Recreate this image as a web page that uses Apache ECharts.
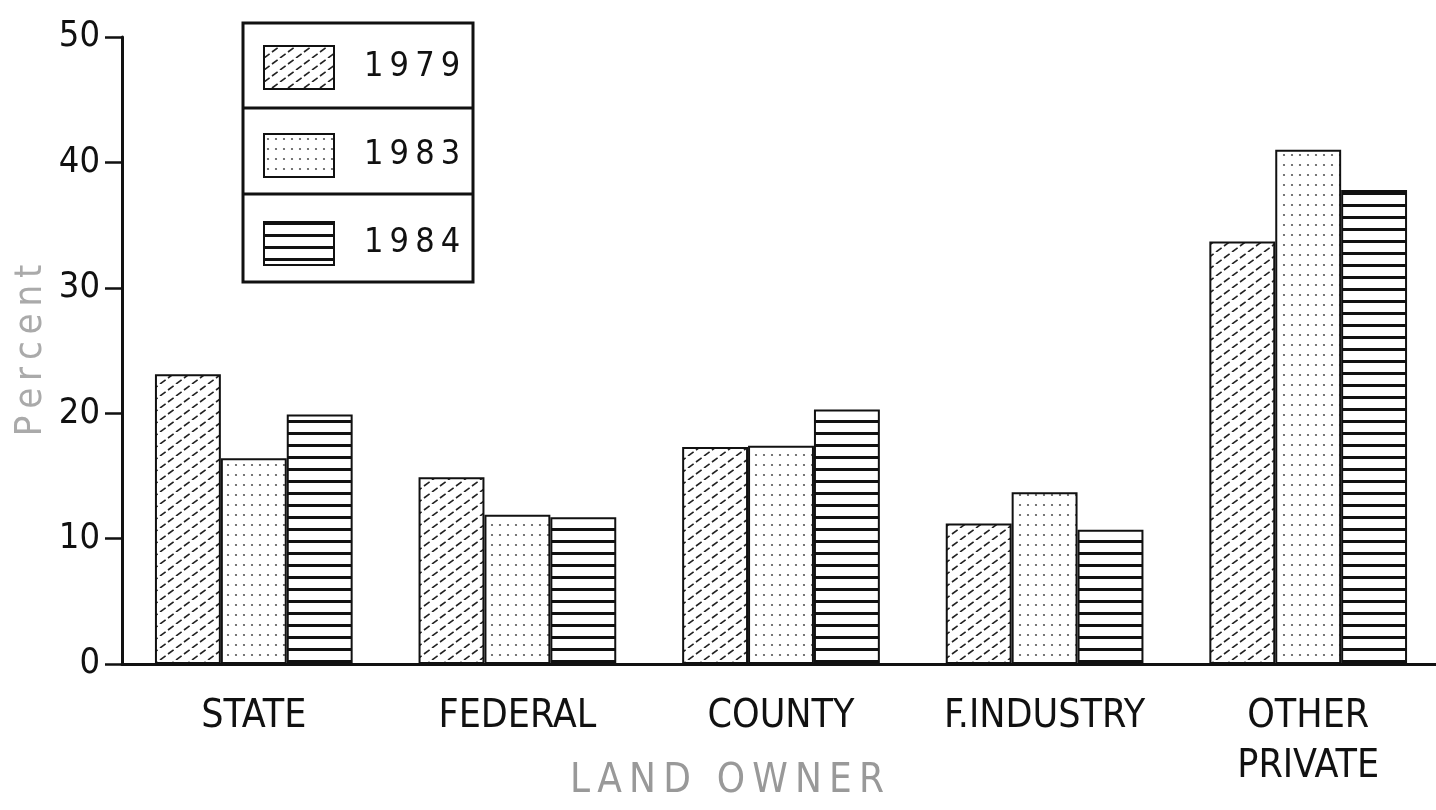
<!DOCTYPE html>
<html>
<head>
<meta charset="utf-8">
<script src="https://cdn.jsdelivr.net/npm/echarts@6/dist/echarts.min.js"></script>
<style>
  html, body { margin: 0; padding: 0; background: #fff; }
  #chart { width: 1436px; height: 810px; }
</style>
</head>
<body>
<div id="chart"></div>
<script>
const categories = ['STATE', 'FEDERAL', 'COUNTY', 'F.INDUSTRY', 'OTHER\nPRIVATE'];
const years = ['1979', '1983', '1984'];
const values1979 = [23.1, 14.9, 17.3, 11.2, 33.7];
const values1983 = [16.4, 11.9, 17.4, 13.7, 41.0];
const values1984 = [19.9, 11.7, 20.3, 10.7, 37.8];
const yTicks = [0, 10, 20, 30, 40, 50];

const narrow = '"Liberation Sans Narrow", "DejaVu Sans Condensed", sans-serif';
// letter spaced titles, the way the plotter drew them
const spaced = (s) => s.split('').join('\u2009');

// fill patterns, like the old plotter hatching
function hatch() {
  const c = document.createElement('canvas');
  c.width = 16; c.height = 12;
  const ctx = c.getContext('2d');
  ctx.strokeStyle = '#222';
  ctx.lineWidth = 1.6;
  ctx.setLineDash([7, 3]);
  [-16, 0, 16].forEach((o) => {
    ctx.beginPath();
    ctx.moveTo(o, 12);
    ctx.lineTo(o + 16, 0);
    ctx.stroke();
  });
  return c;
}
function dots() {
  const c = document.createElement('canvas');
  c.width = 8; c.height = 10;
  const ctx = c.getContext('2d');
  ctx.fillStyle = '#555';
  ctx.beginPath();
  ctx.arc(4, 5, 1.1, 0, Math.PI * 2);
  ctx.fill();
  return c;
}
function stripes() {
  const c = document.createElement('canvas');
  c.width = 12; c.height = 12;
  const ctx = c.getContext('2d');
  ctx.fillStyle = '#111';
  ctx.fillRect(0, 0, 12, 3);
  return c;
}
const fills = [hatch(), dots(), stripes()];
const seriesValues = [values1979, values1983, values1984];

const chart = echarts.init(document.getElementById('chart'));

const option = {
  backgroundColor: '#fff',
  animation: false,
  grid: { left: 122, right: -4, top: 37, bottom: 146, containLabel: false, outerBoundsMode: 'none' },
  legend: {
    orient: 'vertical',
    left: 263,
    top: 45,
    padding: 0,
    itemWidth: 70,
    itemHeight: 43,
    itemGap: 43,
    icon: 'rect',
    selectedMode: false,
    itemStyle: { borderColor: '#111', borderWidth: 2 },
    formatter: spaced,
    textStyle: {
      fontFamily: narrow,
      fontSize: 34,
      color: '#111',
      padding: [0, 0, 0, 25]
    }
  },
  graphic: [
    { type: 'rect', shape: { x: 243, y: 23, width: 230, height: 259 }, style: { fill: 'none', stroke: '#111', lineWidth: 3 } },
    { type: 'line', shape: { x1: 243, y1: 108, x2: 473, y2: 108 }, style: { stroke: '#111', lineWidth: 3 } },
    { type: 'line', shape: { x1: 243, y1: 194, x2: 473, y2: 194 }, style: { stroke: '#111', lineWidth: 3 } }
  ],
  xAxis: {
    type: 'category',
    data: categories,
    name: spaced('LAND OWNER'),
    nameLocation: 'middle',
    nameGap: 98,
    nameMoveOverlap: false,
    nameTextStyle: {
      fontFamily: narrow,
      fontSize: 40,
      color: '#999',
      padding: [0, 108, 0, 0]
    },
    axisLine: { lineStyle: { color: '#111', width: 3 } },
    axisTick: { alignWithLabel: true, length: 12, lineStyle: { color: '#111', width: 2 } },
    axisLabel: {
      interval: 0,
      fontFamily: narrow,
      fontSize: 39,
      color: '#111',
      margin: 28,
      lineHeight: 50
    }
  },
  yAxis: {
    type: 'value',
    min: yTicks[0],
    max: yTicks[yTicks.length - 1],
    interval: 10,
    name: spaced('Percent'),
    nameLocation: 'middle',
    nameRotate: 90,
    nameGap: 72,
    nameMoveOverlap: false,
    nameTextStyle: { fontFamily: narrow, fontSize: 38, color: '#aaa' },
    splitLine: { show: false },
    axisLine: { show: true, lineStyle: { color: '#111', width: 3 } },
    axisTick: { show: true, length: 17, lineStyle: { color: '#111', width: 2.5 } },
    axisLabel: { fontFamily: narrow, fontSize: 36, color: '#111', margin: 22 }
  },
  series: years.map((y, i) => ({
    name: y,
    type: 'bar',
    data: seriesValues[i],
    barGap: '0%',
    barCategoryGap: '25%',
    itemStyle: {
      color: { image: fills[i], repeat: 'repeat' },
      borderColor: '#111',
      borderWidth: 2
    },
    emphasis: { disabled: true }
  }))
};

chart.setOption(option);
</script>
</body>
</html>
